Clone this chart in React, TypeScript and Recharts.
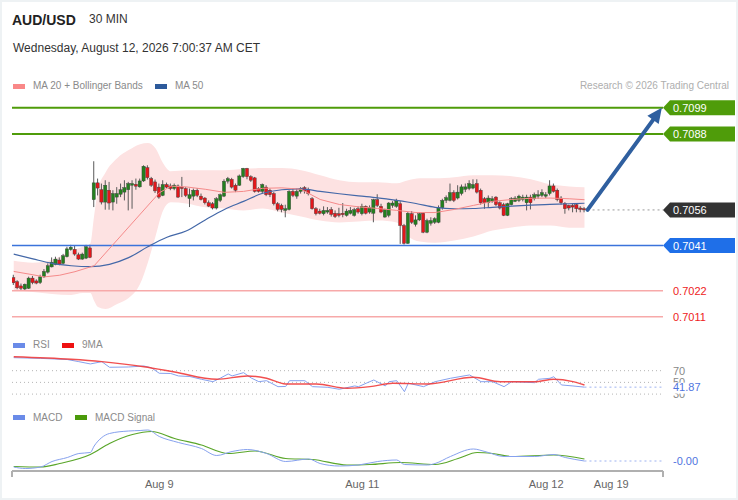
import React from 'react';
import { ComposedChart, Bar, Line, Area, XAxis, YAxis, ReferenceLine } from 'recharts';

const FONT = "'Liberation Sans', Arial, Helvetica, sans-serif";

// #region data: candle prices in pips above 0.7000, one candle per 30 min
const BASE = 0.7;
const PIP = 0.0001;

const OPEN = [
  27.5, 25.8, 24.0, 22.7, 23.0, 27.3, 26.1, 25.4, 27.8, 29.8,
  32.0, 33.0, 34.9, 33.5, 36.3, 39.3, 39.4, 37.1, 35.3, 35.7,
  40.0, 60.3, 67.4, 64.5, 59.3, 64.3, 59.3, 61.4, 62.6, 63.5,
  64.5, 66.4, 66.8, 65.7, 68.2, 73.8, 69.2, 67.8, 65.6, 62.1,
  66.7, 66.1, 65.0, 66.1, 65.6, 65.0, 60.8, 61.8, 64.3, 61.8,
  61.0, 59.0, 58.6, 56.8, 60.0, 61.8, 68.1, 68.9, 66.4, 66.4,
  70.0, 73.5, 70.0, 69.5, 65.0, 63.8, 65.6, 64.3, 62.9, 58.6,
  57.9, 55.8, 56.2, 63.8, 61.8, 63.8, 65.4, 64.5, 60.7, 56.5,
  55.5, 54.4, 55.1, 56.1, 54.6, 54.4, 54.6, 53.7, 54.6, 53.7,
  56.5, 54.4, 57.5, 55.1, 54.6, 60.3, 57.5, 53.0, 53.7, 57.9,
  57.5, 58.6, 49.4, 41.9, 54.4, 49.9, 51.8, 54.6, 46.6, 50.4,
  50.8, 50.8, 56.9, 60.0, 60.0, 63.3, 61.0, 62.9, 64.7, 65.0,
  65.2, 67.1, 64.3, 60.7, 59.0, 59.6, 61.4, 59.0, 58.2, 53.7,
  58.2, 59.6, 60.0, 60.4, 59.0, 61.4, 60.7, 61.8, 62.1, 61.8,
  62.9, 66.1, 64.3, 61.0, 58.6, 57.9, 57.9, 58.2, 56.8, 56.5,
];
const HIGH = [
  28.7, 26.4, 25.0, 25.0, 27.9, 28.2, 26.8, 28.7, 31.1, 33.5,
  36.0, 36.3, 36.0, 37.5, 40.5, 41.3, 40.8, 38.0, 38.0, 41.3,
  41.3, 76.5, 69.2, 67.1, 68.5, 67.8, 64.3, 65.6, 67.1, 68.5,
  67.8, 68.5, 69.2, 69.2, 74.8, 74.8, 69.9, 68.8, 67.1, 68.5,
  67.5, 67.1, 67.1, 66.7, 69.9, 65.6, 65.0, 65.0, 65.2, 62.9,
  61.4, 60.0, 59.3, 61.4, 62.9, 68.9, 69.9, 69.5, 67.1, 70.9,
  73.7, 73.7, 70.6, 69.9, 65.6, 67.1, 66.4, 65.0, 63.5, 59.3,
  58.6, 58.2, 64.3, 65.0, 65.0, 65.6, 66.0, 65.4, 61.4, 57.2,
  56.5, 57.5, 57.2, 57.2, 55.8, 56.9, 58.9, 56.5, 57.2, 56.9,
  57.5, 58.6, 57.9, 57.9, 60.7, 62.6, 58.6, 56.5, 59.3, 59.7,
  60.7, 59.7, 50.1, 55.1, 55.5, 53.7, 55.1, 55.1, 52.3, 52.9,
  52.9, 57.9, 60.7, 62.1, 67.1, 64.3, 66.4, 66.7, 67.1, 68.5,
  68.9, 68.9, 65.0, 61.4, 62.1, 61.8, 61.8, 59.6, 59.0, 59.0,
  61.4, 61.8, 62.4, 62.4, 62.4, 62.4, 63.3, 64.3, 64.7, 63.5,
  68.5, 67.1, 65.0, 61.8, 59.3, 58.2, 58.6, 58.6, 57.6, 57.2,
];
const LOW = [
  24.4, 22.6, 21.9, 22.2, 22.7, 24.7, 24.7, 24.8, 27.4, 29.2,
  31.8, 32.7, 32.7, 33.0, 36.0, 38.8, 36.7, 34.9, 35.0, 35.3,
  35.7, 57.2, 62.1, 58.3, 56.1, 56.1, 55.8, 58.6, 61.4, 60.0,
  55.8, 56.5, 64.5, 65.4, 67.8, 68.8, 65.7, 63.1, 60.7, 61.8,
  65.2, 64.3, 64.3, 61.0, 61.4, 61.4, 57.2, 60.0, 61.4, 60.0,
  58.3, 57.2, 56.2, 56.2, 59.3, 61.4, 67.1, 65.0, 63.5, 66.1,
  69.5, 68.9, 67.8, 63.3, 63.3, 62.9, 61.8, 61.4, 57.9, 55.4,
  55.0, 52.9, 55.8, 61.4, 60.7, 62.9, 62.9, 62.1, 56.1, 53.7,
  54.1, 53.7, 54.4, 53.2, 52.6, 52.9, 52.9, 53.2, 54.1, 53.2,
  54.4, 53.7, 54.1, 54.4, 50.8, 57.2, 54.6, 52.7, 52.9, 56.9,
  56.9, 41.7, 41.4, 41.7, 50.1, 49.0, 51.3, 46.2, 46.2, 49.4,
  50.1, 50.4, 56.1, 58.9, 59.6, 59.3, 60.4, 62.1, 63.5, 64.3,
  64.7, 62.9, 58.2, 56.5, 56.8, 59.0, 57.6, 56.2, 53.4, 53.4,
  57.9, 59.3, 59.3, 59.6, 55.8, 56.2, 60.0, 60.7, 61.4, 61.0,
  62.1, 63.3, 59.6, 58.2, 54.4, 55.8, 55.0, 55.0, 55.0, 55.0,
];
const CLOSE = [
  25.3, 23.2, 23.0, 24.7, 27.3, 25.4, 25.2, 27.8, 30.1, 32.5,
  34.0, 35.3, 33.2, 36.7, 39.6, 40.3, 37.4, 35.3, 37.4, 40.5,
  36.0, 67.4, 65.2, 59.3, 66.4, 58.9, 62.9, 62.9, 64.5, 65.4,
  67.1, 67.1, 66.0, 68.2, 74.4, 69.6, 66.4, 64.0, 61.4, 66.7,
  65.6, 65.0, 66.4, 61.4, 65.0, 62.1, 62.4, 64.3, 62.1, 60.4,
  59.0, 57.6, 56.8, 60.7, 62.4, 68.1, 69.2, 65.6, 64.3, 70.3,
  73.5, 70.0, 68.5, 63.8, 63.8, 66.7, 62.4, 62.4, 58.6, 56.2,
  56.2, 56.5, 63.8, 62.1, 63.8, 65.0, 64.0, 62.9, 56.5, 54.4,
  54.6, 55.8, 55.8, 54.1, 53.2, 53.7, 54.0, 55.5, 55.8, 56.1,
  55.1, 57.5, 54.6, 56.9, 60.3, 57.9, 55.1, 56.1, 58.9, 58.9,
  60.0, 49.4, 41.9, 54.6, 50.8, 51.8, 54.4, 46.6, 51.5, 51.5,
  52.3, 56.9, 60.0, 61.2, 63.3, 60.0, 63.5, 65.7, 65.7, 67.1,
  66.7, 63.5, 59.0, 59.0, 61.0, 60.7, 58.2, 56.8, 53.7, 58.6,
  60.7, 61.0, 61.8, 61.4, 61.4, 59.0, 62.4, 62.4, 63.3, 62.4,
  66.1, 63.8, 60.4, 59.0, 56.5, 56.8, 57.2, 56.5, 56.2, 56.0,
];

// [candle index, pips]
const MA20: [number, number][] = [
  [0, 30.1], [5, 28.7], [8, 27.8], [12, 28.5], [16, 30.0], [20, 32.0], [21, 32.5],
  [38, 63.2], [41, 66.0], [45, 65.7], [50, 64.7], [55, 63.4], [60, 63.8], [65, 65.1],
  [70, 65.3], [75, 64.7], [80, 60.4], [85, 58.3], [90, 57.3], [95, 56.6], [100, 55.8],
  [105, 54.9], [110, 54.9], [115, 56.2], [120, 57.9], [125, 59.6], [130, 60.4],
  [135, 60.9], [140, 61.0], [145, 60.7], [149, 60.3],
];
const MA50: [number, number][] = [
  [0, 37.4], [5, 35.4], [10, 33.5], [15, 32.5], [20, 32.1], [25, 33.1], [30, 35.9],
  [35, 40.5], [40, 44.5], [45, 47.1], [50, 51.8], [55, 56.2], [60, 59.6], [65, 63.0],
  [70, 64.5], [75, 64.9], [80, 63.8], [85, 62.8], [90, 61.9], [95, 61.1], [100, 60.0],
  [105, 58.7], [110, 57.1], [115, 56.5], [120, 56.6], [125, 57.1], [130, 57.6],
  [135, 58.0], [140, 58.3], [145, 58.6], [149, 58.8],
];
// [candle index, lower band, upper band] in pips
const BOLLINGER: [number, number, number][] = [
  [0, 22.3, 34.6], [5, 21.4, 33.8], [10, 20.6, 35.0], [15, 20.2, 38.8], [18, 21.0, 40.5],
  [20, 21.0, 41.8], [21, 17.7, 53.7], [22, 15.1, 64.3], [24, 14.3, 71.9], [27, 16.4, 77.8],
  [30, 18.9, 81.2], [33, 24.9, 83.7], [35, 33.8, 84.2], [37, 44.8, 82.0], [39, 55.8, 75.7],
  [41, 59.2, 72.3], [45, 58.7, 72.7], [50, 57.1, 72.7], [55, 56.6, 72.7], [60, 55.8, 73.2],
  [65, 56.6, 73.6], [70, 54.9, 73.6], [75, 53.2, 72.7], [80, 51.5, 70.6], [85, 50.7, 68.5],
  [90, 51.1, 67.7], [95, 51.5, 67.7], [100, 50.7, 67.2], [103, 44.8, 68.5], [106, 42.7, 69.3],
  [110, 42.2, 69.3], [115, 43.1, 69.8], [120, 44.8, 70.6], [125, 47.3, 70.6], [130, 48.6, 70.2],
  [135, 49.4, 68.9], [140, 49.4, 66.8], [145, 48.5, 65.9], [149, 48.5, 65.5],
];

const RSI: [number, number][] = [
  [0, 92.2], [7, 91.0], [14, 89.0], [17, 85.4], [20, 81.5], [23, 85.4], [25, 75.8], [30, 76.3],
  [34, 78.0], [36, 74.6], [38, 65.6], [41, 65.2], [43, 61.0], [46, 60.0], [49, 55.3], [52, 51.2],
  [54, 57.5], [56, 64.4], [57, 61.0], [60, 66.6], [62, 57.5], [64, 51.2], [66, 52.9], [69, 42.7],
  [71, 43.0], [72, 52.9], [76, 52.9], [78, 42.7], [82, 41.6], [85, 38.2], [89, 43.9], [90, 42.7],
  [92, 48.5], [94, 54.1], [97, 43.9], [98, 51.2], [100, 52.9], [102, 34.1], [103, 48.5],
  [107, 42.7], [110, 51.2], [114, 57.0], [119, 62.7], [122, 51.2], [125, 51.2], [128, 42.7],
  [130, 51.2], [136, 49.5], [137, 55.3], [140, 57.0], [141, 59.7], [143, 45.6], [146, 43.9],
  [149, 41.87],
];
const RSI_MA9: [number, number][] = [
  [0, 93.9], [15, 89.5], [23, 85.4], [34, 76.8], [42, 67.8], [53, 55.3], [61, 61.0], [66, 57.0],
  [71, 47.3], [79, 47.3], [87, 39.9], [93, 42.7], [99, 48.5], [108, 47.3], [120, 58.7],
  [127, 51.2], [136, 51.2], [141, 55.3], [146, 51.2], [149, 45.6],
];

const MACD: [number, number][] = [
  [0, -0.00012], [3, -0.00015], [7, -0.00012], [10, -0.00001], [14, 0.00007], [17, 0.00015],
  [20, 0.00017], [21, 0.0003], [23, 0.00047], [25, 0.00055], [30, 0.0006], [33, 0.00061],
  [35, 0.00062], [38, 0.00049], [43, 0.00037], [49, 0.00025], [53, 0.00011], [57, 0.00019],
  [61, 0.00023], [66, 0.00015], [71, -0.00001], [77, 0.00004], [80, -0.00005], [85, -0.0001],
  [90, -0.00008], [95, -0.00001], [100, 0.00002], [102, -0.00007], [108, -0.00008],
  [110, -0.00005], [114, 0.00009], [120, 0.00024], [123, 0.00019], [128, 0.00009],
  [136, 0.00009], [141, 0.00013], [144, 0.00007], [149, 0.0],
];
const MACD_SIGNAL: [number, number][] = [
  [0, -0.00011], [7, -0.00012], [12, -0.00005], [20, 0.00013], [25, 0.00035], [31, 0.00053],
  [36, 0.00059], [42, 0.00045], [49, 0.00032], [56, 0.00015], [63, 0.0002], [71, 0.00005],
  [78, 0.00003], [87, -0.00008], [93, -0.00007], [101, -0.00003], [110, -0.00007],
  [116, 0.00005], [121, 0.00017], [125, 0.00015], [130, 0.00009], [141, 0.00012], [149, 0.00004],
];

const RESISTANCE = [0.7099, 0.7088];
const LAST_PRICE = 0.7056;
const PIVOT = 0.7041;
const SUPPORT = [0.7022, 0.7011];
const RSI_LEVELS = [70, 50, 30];
const RSI_LAST_LABEL = '41.87';
const MACD_LAST_LABEL = '-0.00';

const X_TICKS = [38, 91, 139, 156];
const X_LABELS = ['Aug 9', 'Aug 11', 'Aug 12', 'Aug 19'];
// #endregion

const toPrice = (p: number) => BASE + p * PIP;

const rows: any[] = OPEN.map((o, i) => ({
  i,
  open: toPrice(o),
  high: toPrice(HIGH[i]),
  low: toPrice(LOW[i]),
  close: toPrice(CLOSE[i]),
}));
const attach = (pairs: [number, number][], key: string, f = (v: number) => v) => {
  pairs.forEach(([i, v]) => {
    rows[i][key] = f(v);
  });
};
attach(MA20, 'ma20', toPrice);
attach(MA50, 'ma50', toPrice);
attach(RSI, 'rsi');
attach(RSI_MA9, 'rsiMa');
attach(MACD, 'macd');
attach(MACD_SIGNAL, 'signal');

const bandRows = BOLLINGER.map(([i, lo, hi]) => ({ i, band: [toPrice(lo), toPrice(hi)] }));

const LAST_I = OPEN.length - 1;
const LAST_RSI = RSI[RSI.length - 1][1];
const LAST_MACD = MACD[MACD.length - 1][1];

const W = 738;
const H = 500;
const X_DOMAIN: [number, number] = [-0.45, 169.5];
const PRICE_DOMAIN: [number, number] = [0.700544, 0.710439];
const RSI_DOMAIN: [number, number] = [20, 106];
const MACD_DOMAIN: [number, number] = [-0.0002, 0.00072];

const Candle = (props: any) => {
  const { x, y, width, height, payload } = props;
  if (!payload || height == null) return null;
  const { open, close, high, low } = payload;
  const k = height / (high - low || 1e-9);
  const yOf = (p: number) => y + (high - p) * k;
  const cx = x + width / 2;
  const top = yOf(Math.max(open, close));
  const bottom = yOf(Math.min(open, close));
  const up = close >= open;
  return (
    <g>
      <line x1={cx} x2={cx} y1={y} y2={y + height} stroke="#5a5a5a" strokeWidth={1} />
      <rect
        x={cx - 1.6}
        y={top}
        width={3.2}
        height={Math.max(bottom - top, 0.8)}
        fill={up ? '#23801f' : '#e3171b'}
        stroke="#3c3c3c"
        strokeWidth={0.4}
      />
    </g>
  );
};

function levelLabel(text: string, color: string, bg?: string, box?: boolean) {
  return (props: any) => {
    const vb = props.viewBox || {};
    const x = (vb.x || 0) + (vb.width || 0);
    const y = vb.y || 0;
    return (
      <g>
        {bg && <path d={`M${x} ${y}L${x + 7} ${y - 7.5}H${x + 72}V${y + 7.5}H${x + 7}Z`} fill={bg} />}
        {box && <rect x={x + 7} y={y - 4.5} width={36} height={11} fill="#fff" />}
        <text x={x + 10} y={y + 4} fill={color} fontSize={11} fontFamily={FONT}>
          {text}
        </text>
      </g>
    );
  };
}

const TargetArrow = (p: any) => {
  const { x1, y1, x2, y2 } = p;
  const dx = x2 - x1;
  const dy = y2 - y1;
  const len = Math.hypot(dx, dy) || 1;
  const ux = dx / len;
  const uy = dy / len;
  const head = 15;
  const half = 7;
  const bx = x2 - ux * head;
  const by = y2 - uy * head;
  return (
    <g>
      <line x1={x1} y1={y1} x2={bx + ux * 2} y2={by + uy * 2} stroke="#2f5f9f" strokeWidth={4} strokeLinecap="round" />
      <polygon
        points={`${x2},${y2} ${bx - uy * half},${by + ux * half} ${bx + uy * half},${by - ux * half}`}
        fill="#2f5f9f"
      />
    </g>
  );
};

const AxisTick = (props: any) => {
  const { x, y, payload } = props;
  const k = X_TICKS.indexOf(payload.value);
  if (k < 0) return <line x1={x} x2={x} y1={y - 8} y2={y - 2} stroke="#b0b0b0" strokeWidth={2} />;
  return (
    <text x={x} y={y + 9} textAnchor="middle" fill="#666" fontSize={11} fontFamily={FONT}>
      {X_LABELS[k]}
    </text>
  );
};

const layer: React.CSSProperties = { position: 'absolute', left: 0, top: 0 };

const Legend = ({ y, items }: { y: number; items: { x: number; label: string; color: string }[] }) => (
  <>
    {items.map((it) => (
      <React.Fragment key={it.label}>
        <div style={{ position: 'absolute', left: it.x, top: y - 2.5, width: 12, height: 5, background: it.color }} />
        <div style={{ position: 'absolute', left: it.x + 20, top: y - 4.9, fontSize: 10, lineHeight: '10px', color: '#8a8a8a', whiteSpace: 'nowrap' }}>
          {it.label}
        </div>
      </React.Fragment>
    ))}
  </>
);

export default function App() {
  const xAxisHidden = <XAxis type="number" dataKey="i" domain={X_DOMAIN} hide allowDataOverflow />;
  return (
    <div style={{ position: 'absolute', left: 0, top: 0, width: W, height: H, background: '#fff', fontFamily: FONT, overflow: 'hidden' }}>
      <div style={{ position: 'absolute', left: 12, top: 12.7, fontSize: 14, lineHeight: '14px', fontWeight: 700, color: '#222' }}>AUD/USD</div>
      <div style={{ position: 'absolute', left: 89, top: 13.3, fontSize: 12, lineHeight: '12px', color: '#333' }}>30 MIN</div>
      <div style={{ position: 'absolute', left: 13, top: 42, fontSize: 12, lineHeight: '12px', color: '#333' }}>
        Wednesday, August 12, 2026 7:00:37 AM CET
      </div>
      <Legend
        y={86}
        items={[
          { x: 13, label: 'MA 20 + Bollinger Bands', color: '#f98888' },
          { x: 155, label: 'MA 50', color: '#2d5a9b' },
        ]}
      />
      <div style={{ position: 'absolute', right: 9, top: 81.1, fontSize: 10, lineHeight: '10px', color: '#aeaeae' }}>
        Research © 2026 Trading Central
      </div>
      <Legend
        y={345}
        items={[
          { x: 13, label: 'RSI', color: '#6a8be8' },
          { x: 62, label: '9MA', color: '#ee1111' },
        ]}
      />
      <Legend
        y={417.5}
        items={[
          { x: 13, label: 'MACD', color: '#6a8be8' },
          { x: 75, label: 'MACD Signal', color: '#4a9a0a' },
        ]}
      />

      {/* Bollinger band */}
      <div style={layer}>
        <ComposedChart width={W} height={H} data={bandRows} margin={{ top: 95, right: 75, bottom: 170, left: 12 }}>
          {xAxisHidden}
          <YAxis hide domain={PRICE_DOMAIN} allowDataOverflow />
          <Area dataKey="band" type="monotone" stroke="none" fill="#fde2e2" fillOpacity={1} isAnimationActive={false} />
        </ComposedChart>
      </div>

      {/* price panel */}
      <div style={layer}>
        <ComposedChart width={W} height={H} data={rows} margin={{ top: 95, right: 75, bottom: 170, left: 12 }}>
          {xAxisHidden}
          <YAxis hide domain={PRICE_DOMAIN} allowDataOverflow />
          {RESISTANCE.map((p) => (
            <ReferenceLine key={p} y={p} stroke="#4f9c0a" strokeWidth={2} label={levelLabel(p.toFixed(4), '#fff', '#4f9c0a')} />
          ))}
          <ReferenceLine y={PIVOT} stroke="#3b73db" strokeWidth={1.5} label={levelLabel(PIVOT.toFixed(4), '#fff', '#1f6fe8')} />
          {SUPPORT.map((p) => (
            <ReferenceLine key={p} y={p} stroke="#f7a9a9" strokeWidth={1.5} label={levelLabel(p.toFixed(4), '#ee2222')} />
          ))}
          <ReferenceLine
            segment={[{ x: LAST_I + 0.8, y: LAST_PRICE }, { x: X_DOMAIN[1], y: LAST_PRICE }]}
            stroke="#9a9a9a"
            strokeDasharray="2 3"
            label={levelLabel(LAST_PRICE.toFixed(4), '#fff', '#333333')}
          />
          <Line dataKey="ma50" type="monotone" stroke="#4468a8" strokeWidth={1.2} dot={false} connectNulls isAnimationActive={false} />
          <Line dataKey="ma20" type="linear" stroke="#f58a8a" strokeWidth={1} dot={false} connectNulls isAnimationActive={false} />
          <Bar dataKey={(d: any) => [d.low, d.high]} barSize={3} shape={Candle} isAnimationActive={false} />
          <ReferenceLine
            segment={[{ x: LAST_I + 0.8, y: LAST_PRICE }, { x: X_DOMAIN[1] - 0.3, y: RESISTANCE[0] }]}
            shape={TargetArrow}
          />
        </ComposedChart>
      </div>

      {/* RSI panel */}
      <div style={layer}>
        <ComposedChart width={W} height={H} data={rows} margin={{ top: 349.6, right: 75, bottom: 100.05, left: 12 }}>
          {xAxisHidden}
          <YAxis hide domain={RSI_DOMAIN} allowDataOverflow />
          {RSI_LEVELS.map((v) => (
            <ReferenceLine key={v} y={v} stroke="#b5b5b5" strokeDasharray="1 3" label={levelLabel(String(v), '#888')} />
          ))}
          <ReferenceLine
            segment={[{ x: LAST_I, y: LAST_RSI }, { x: X_DOMAIN[1], y: LAST_RSI }]}
            stroke="#9db2f0"
            strokeDasharray="2 3"
            label={levelLabel(RSI_LAST_LABEL, '#4f74e0', undefined, true)}
          />
          <Line dataKey="rsi" type="linear" stroke="#86a1ee" strokeWidth={1} dot={false} connectNulls isAnimationActive={false} />
          <Line dataKey="rsiMa" type="monotone" stroke="#f03c3c" strokeWidth={1.4} strokeOpacity={0.9} dot={false} connectNulls isAnimationActive={false} />
        </ComposedChart>
      </div>

      {/* MACD panel */}
      <div style={layer}>
        <ComposedChart width={W} height={H} data={rows} margin={{ top: 425, right: 75, bottom: 9, left: 12 }}>
          <XAxis
            type="number"
            dataKey="i"
            domain={X_DOMAIN}
            allowDataOverflow
            ticks={[X_DOMAIN[0], ...X_TICKS, X_DOMAIN[1]]}
            interval={0}
            tick={AxisTick}
            tickLine={false}
            axisLine={{ stroke: '#b0b0b0', strokeWidth: 2 }}
            height={20}
          />
          <YAxis hide domain={MACD_DOMAIN} allowDataOverflow />
          <ReferenceLine
            segment={[{ x: LAST_I, y: LAST_MACD }, { x: X_DOMAIN[1], y: LAST_MACD }]}
            stroke="#9db2f0"
            strokeDasharray="2 3"
            label={levelLabel(MACD_LAST_LABEL, '#4f74e0')}
          />
          <Line dataKey="signal" type="monotone" stroke="#5aa62a" strokeWidth={1.2} dot={false} connectNulls isAnimationActive={false} />
          <Line dataKey="macd" type="monotone" stroke="#86a1ee" strokeWidth={1} dot={false} connectNulls isAnimationActive={false} />
        </ComposedChart>
      </div>

      <div style={{ position: 'absolute', left: 0, top: 0, width: W, height: H, boxSizing: 'border-box', border: '2px solid #eef2f4', pointerEvents: 'none' }} />
    </div>
  );
}
